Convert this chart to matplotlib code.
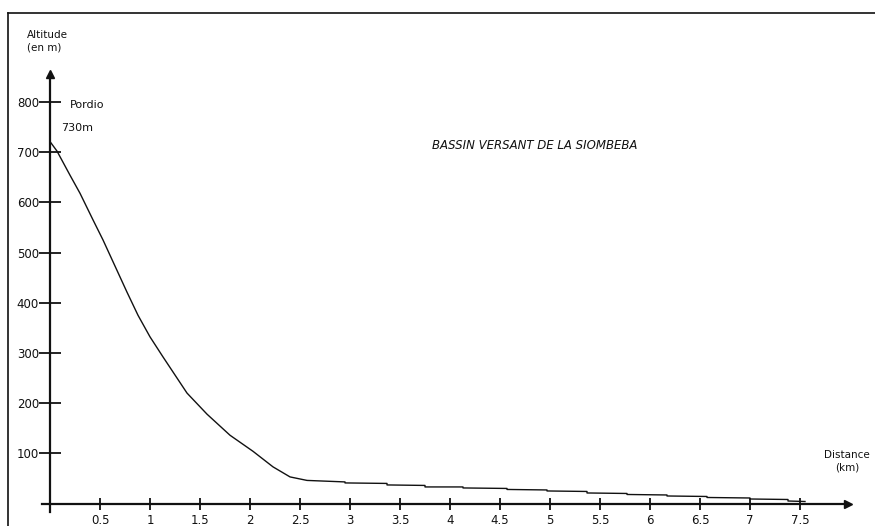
import matplotlib
matplotlib.use("Agg")
import matplotlib.pyplot as plt
from matplotlib.lines import Line2D

# ---- data ----
distance_km = [0.00, 0.07, 0.20, 0.30, 0.43, 0.53, 0.65, 0.77, 0.88, 1.00, 1.13,
               1.27, 1.37, 1.57, 1.80, 2.03, 2.23, 2.40, 2.57, 2.95, 2.95, 3.37, 3.37,
               3.75, 3.75, 4.13, 4.13, 4.57, 4.57, 4.97, 4.97, 5.37, 5.37, 5.77,
               5.77, 6.17, 6.17, 6.57, 6.57, 7.00, 7.00, 7.38, 7.38, 7.55]
altitude_m = [721, 702, 654, 618, 565, 525, 473, 421, 375, 332, 292,
              250, 220, 178, 136, 104, 73, 53, 46, 43, 41, 40, 37,
              36, 33, 33, 31, 30, 28, 27, 25, 24, 21, 20,
              18, 17, 15, 14, 12, 11, 9, 8, 5, 4]
x_ticks = [0.5, 1, 1.5, 2, 2.5, 3, 3.5, 4, 4.5, 5, 5.5, 6, 6.5, 7, 7.5]
x_tick_labels = ["0.5", "1", "1.5", "2", "2.5", "3", "3.5", "4", "4.5",
                 "5", "5.5", "6", "6.5", "7", "7.5"]
y_ticks = [100, 200, 300, 400, 500, 600, 700, 800]
y_tick_labels = ["100", "200", "300", "400", "500", "600", "700", "800"]
title = "BASSIN VERSANT DE LA SIOMBEBA"

plt.rcParams['font.family'] = ['DejaVu Sans']
fig = plt.figure(figsize=(8.75, 5.26), dpi=100)
ax = fig.add_axes([0, 0, 1, 1])
ax.set_xlim(-0.5, 8.25)
ax.set_ylim(-44.8, 1003)

ink = "#111111"
ax.plot(distance_km, altitude_m, color=ink, lw=1.0)

# axes as centred spines
for s in ["top", "right"]:
    ax.spines[s].set_visible(False)
ax.spines["left"].set_position(("data", 0))
ax.spines["bottom"].set_position(("data", 0))
ax.spines["left"].set_bounds(-17, 850)
ax.spines["bottom"].set_bounds(-0.08, 7.95)
for s in ["left", "bottom"]:
    ax.spines[s].set_linewidth(1.6)
    ax.spines[s].set_color(ink)

ax.plot([0], [855], marker="^", color=ink, ms=6, clip_on=False)
ax.plot([7.98], [0], marker=">", color=ink, ms=6, clip_on=False)

ax.set_xticks(x_ticks)
ax.set_xticklabels(x_tick_labels)
ax.set_yticks(y_ticks)
ax.set_yticklabels(y_tick_labels)
ax.tick_params(axis="y", direction="inout", length=16, width=1.3, pad=0,
               labelsize=8.5, colors=ink)
ax.tick_params(axis="x", direction="inout", length=9, width=1.3, pad=3,
               labelsize=8.5, colors=ink)

ax.text(4.85, 714, title, ha="center", va="center", fontsize=8.5,
        style="italic", color=ink)
ax.text(-0.23, 920, "Altitude\n(en m)", ha="left", va="center",
        fontsize=7.5, color=ink, linespacing=1.3)
ax.text(0.2, 794, "Pordio", ha="left", va="center", fontsize=8, color=ink)
ax.text(0.11, 749, "730m", ha="left", va="center", fontsize=8, color=ink)
ax.text(8.2, 84, "Distance\n(km)", ha="right", va="center", fontsize=7.5,
        color=ink, multialignment="center", linespacing=1.3)

# scanned frame border
fig.add_artist(Line2D([8/875, 1], [1 - 13/526, 1 - 13/526],
                      transform=fig.transFigure, color=ink, lw=1.2))
fig.add_artist(Line2D([8/875, 8/875], [0, 1 - 13/526],
                      transform=fig.transFigure, color=ink, lw=1.2))

fig.savefig("out.png", dpi=100)
